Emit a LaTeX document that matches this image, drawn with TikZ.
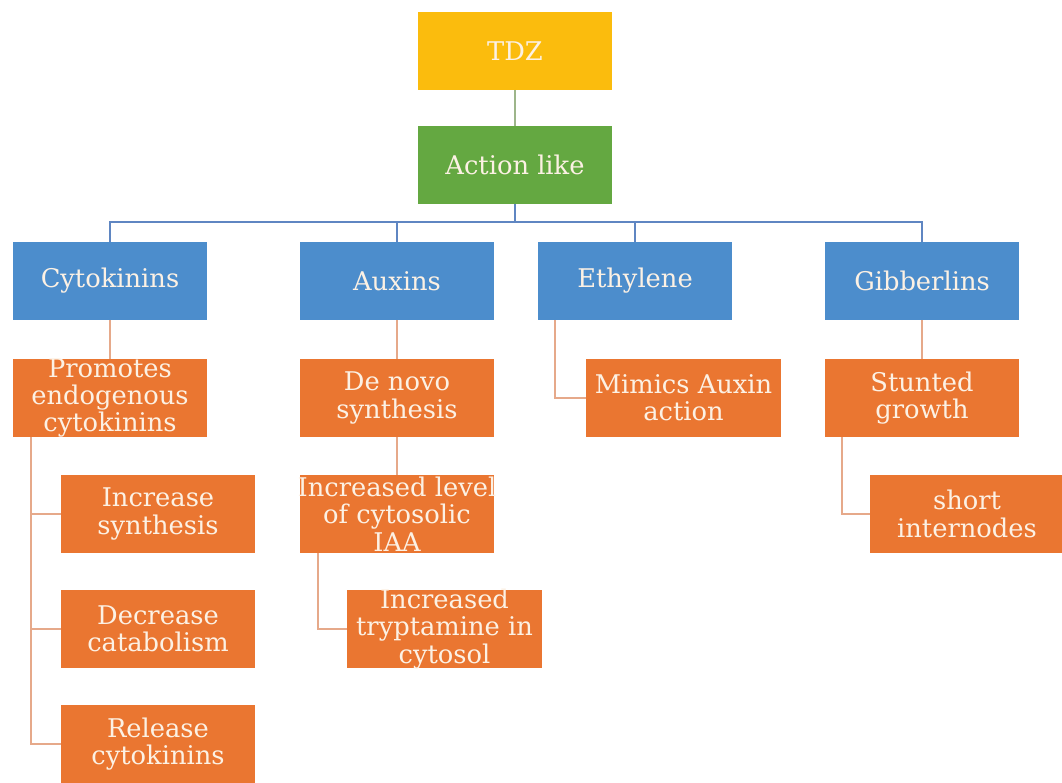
\documentclass[tikz,border=0pt]{standalone}
\usepackage{fontspec}
\setmainfont{DejaVu Serif}
\definecolor{cgold}{HTML}{FBBC0D}
\definecolor{cgreen}{HTML}{64A841}
\definecolor{cblue}{HTML}{4C8DCC}
\definecolor{corange}{HTML}{EA7631}
\definecolor{ctext}{HTML}{FCF1E4}
\definecolor{lgreen}{HTML}{9DB58A}
\definecolor{lblue}{HTML}{5F86C2}
\definecolor{lorange}{HTML}{E6A98A}
\tikzset{
  box/.style={rectangle, draw=none, text=ctext, align=center, inner xsep=-4pt, inner ysep=-3pt,
    font=\fontsize{18.3}{19.4}\selectfont, minimum width=4.85cm, minimum height=1.93cm},
  gold/.style={box, fill=cgold},
  green/.style={box, fill=cgreen},
  bluebox/.style={box, fill=cblue},
  orbox/.style={box, fill=corange},
  gline/.style={draw=lgreen, line width=1.4pt},
  bline/.style={draw=lblue, line width=1.4pt},
  oline/.style={draw=lorange, line width=1.4pt},
}
\begin{document}
\begin{tikzpicture}[x=0.025cm, y=-0.025cm]
\useasboundingbox (0,0) rectangle (1062,782);
\node[gold] (tdz) at (515,51) {TDZ};
\node[green] (act) at (515,165) {Action like};
\node[bluebox] (cyt) at (110,281) {Cytokinins};
\node[bluebox] (aux) at (397,281) {Auxins};
\node[bluebox] (eth) at (635,281) {Ethylene};
\node[bluebox] (gib) at (922,281) {Gibberlins};
\node[orbox] (prom) at (110,398) {Promotes\\endogenous\\cytokinins};
\node[orbox] (deno) at (397,398) {De novo\\synthesis};
\node[orbox] (mim) at (683.5,398) {Mimics Auxin\\action};
\node[orbox] (stun) at (922,398) {Stunted\\growth};
\node[orbox] (incs) at (158,514) {Increase\\synthesis};
\node[orbox] (incl) at (397,514) {Increased level\\of cytosolic\\IAA};
\node[orbox] (short) at (967,514) {short\\internodes};
\node[orbox] (dec) at (158,629) {Decrease\\catabolism};
\node[orbox] (tryp) at (444.5,629) {Increased\\tryptamine in\\cytosol};
\node[orbox] (rel) at (158,744) {Release\\cytokinins};
\coordinate (hb) at (515,222);
\draw[gline] (tdz.south) -- (act.north);
\draw[bline] (act.south) -- (hb);
\draw[bline] (cyt.north) |- (hb);
\draw[bline] (gib.north) |- (hb);
\draw[bline] (aux.north) -- (aux.north |- hb);
\draw[bline] (eth.north) -- (eth.north |- hb);
\draw[oline] (cyt.south) -- (prom.north);
\draw[oline] (aux.south) -- (deno.north);
\draw[oline] (gib.south) -- (stun.north);
\draw[oline] (deno.south) -- (incl.north);
\draw[oline] (eth.south west) ++(17,0) |- (mim.west);
\draw[oline] (stun.south west) ++(17,0) |- (short.west);
\draw[oline] (incl.south west) ++(18,0) |- (tryp.west);
\draw[oline] (prom.south west) ++(18,0) |- (incs.west);
\draw[oline] (prom.south west) ++(18,0) |- (dec.west);
\draw[oline] (prom.south west) ++(18,0) |- (rel.west);
\end{tikzpicture}
\end{document}
